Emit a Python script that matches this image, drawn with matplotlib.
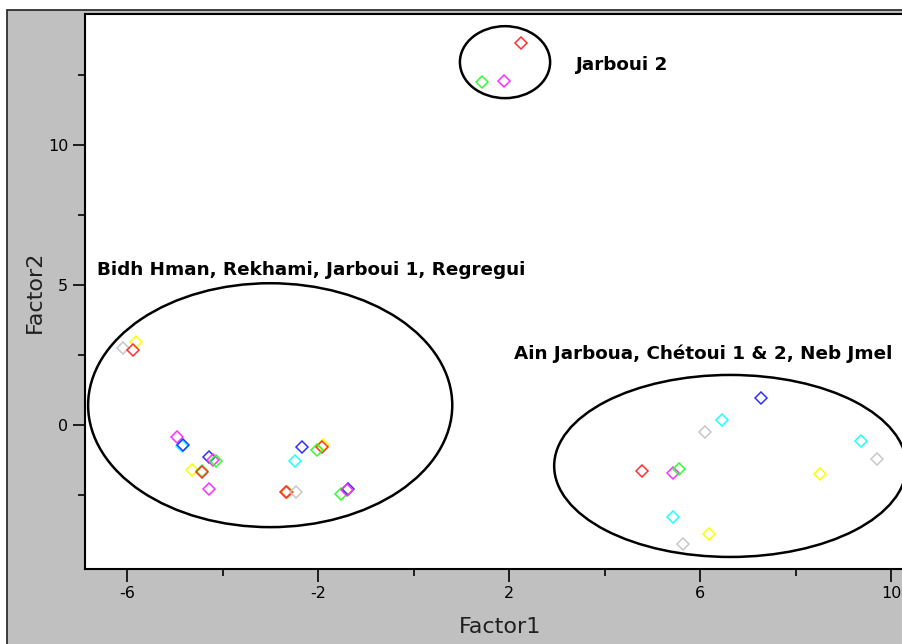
import matplotlib
matplotlib.use("Agg")
import matplotlib.pyplot as plt
from matplotlib.patches import Ellipse, Rectangle
from matplotlib.ticker import FixedLocator

plt.rcParams['font.family'] = ['DejaVu Sans']
plt.rcParams['axes.unicode_minus'] = False

# factor scores
f1 = [2.25, 1.43, 1.89,
      -6.10, -5.82, -5.89, -4.96, -4.86, -4.83, -4.29, -4.21, -4.14,
      -4.64, -4.44, -4.43, -4.29, -2.35, -2.49, -1.90, -1.93, -2.03,
      -2.66, -2.68, -2.47, -1.52, -1.38, -1.40,
      7.28, 6.46, 6.09, 9.36, 9.71, 4.79, 5.42, 5.56, 8.50, 5.42, 6.18, 5.64]
f2 = [13.64, 12.25, 12.29,
      2.74, 2.98, 2.68, -0.44, -0.75, -0.71, -1.13, -1.25, -1.29,
      -1.61, -1.63, -1.69, -2.30, -0.78, -1.27, -0.71, -0.78, -0.89,
      -2.38, -2.38, -2.38, -2.46, -2.30, -2.32,
      0.98, 0.18, -0.26, -0.57, -1.21, -1.64, -1.70, -1.58, -1.76, -3.30, -3.89, -4.23]
cols = ['red', 'green', 'magenta',
        'gray', 'yellow', 'red', 'magenta', 'cyan', 'blue', 'blue', 'magenta', 'green',
        'yellow', 'green', 'red', 'magenta', 'blue', 'cyan', 'yellow', 'red', 'green',
        'orange', 'red', 'gray', 'green', 'blue', 'magenta',
        'blue', 'cyan', 'gray', 'cyan', 'gray', 'red', 'magenta', 'green', 'yellow', 'cyan', 'yellow', 'gray']

palette = {'red': '#ff3030', 'green': '#30ff30', 'magenta': '#ff30ff', 'blue': '#3030ff',
           'cyan': '#20ffff', 'yellow': '#ffff00', 'gray': '#c8c8c8', 'orange': '#ff8000'}

# groups: label, label position, ellipse centre, width, height
groups = ["Jarboui 2",
          "Bidh Hman, Rekhami, Jarboui 1, Regregui",
          "Ain Jarboua, Chétoui 1 & 2, Neb Jmel"]
label_xy = [(3.38, 12.86), (-6.64, 5.54), (2.10, 2.54)]
ell_c = [(1.91, 12.96), (-3.01, 0.71), (6.63, -1.46)]
ell_w = [1.89, 7.63, 7.38]
ell_h = [2.57, 8.71, 6.5]

fig = plt.figure(figsize=(9.02, 6.44), dpi=100)
fig.patches.append(Rectangle((7/902, -0.01), 1, (644-10)/644 + 0.01, transform=fig.transFigure,
                             facecolor='#c0c0c0', edgecolor='#202020', lw=1.2, zorder=-10))

ax = fig.add_axes([85/902, 75/644, 830/902, 555/644])
for x, y, c in zip(f1, f2, cols):
    ax.plot(x, y, 'D', ms=6, mfc='none', mec=palette[c], mew=1.1)

for (cx, cy), w, h in zip(ell_c, ell_w, ell_h):
    ax.add_patch(Ellipse((cx, cy), w, h, fill=False, ec='black', lw=1.8))

for name, (tx, ty) in zip(groups, label_xy):
    ax.text(tx, ty, name, fontsize=13.2, fontweight='bold', va='center', ha='left')

ax.set_xlim(-6.89, 10.5)
ax.set_ylim(-5.14, 14.68)
ax.set_xticks([-6, -2, 2, 6, 10])
ax.set_yticks([0, 5, 10])
ax.xaxis.set_minor_locator(FixedLocator([-4, 0, 4, 8]))
ax.yaxis.set_minor_locator(FixedLocator([-2.5, 2.5, 7.5, 12.5]))
ax.tick_params(which='major', length=9, width=1.2, labelsize=11.5, pad=3)
ax.tick_params(which='minor', length=5, width=1.2)
ax.spines['right'].set_visible(False)
for s in ['left', 'bottom', 'top']:
    ax.spines[s].set_linewidth(1.5)
ax.set_xlabel("Factor1", fontsize=16, labelpad=12, color='#202020')
ax.set_ylabel("Factor2", fontsize=16, labelpad=2, color='#202020')

fig.savefig("out.png", dpi=100)
